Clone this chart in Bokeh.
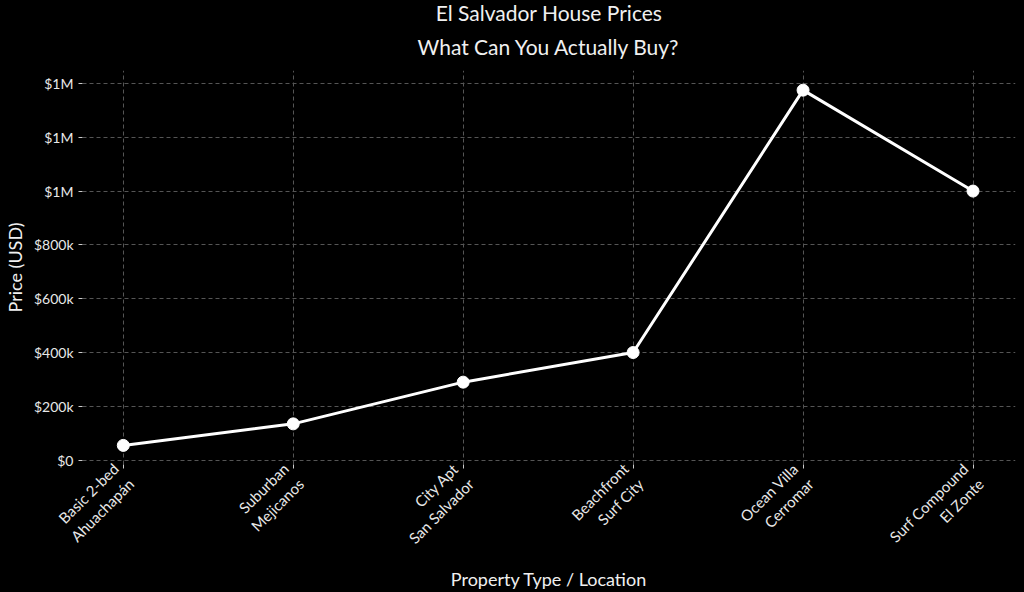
from bokeh.plotting import figure
from bokeh.models import Range1d, FixedTicker, ColumnDataSource, Title
from bokeh.embed import file_html
from bokeh.resources import INLINE

title_lines = ["El Salvador House Prices", "What Can You Actually Buy?"]
categories = ["Basic 2-bed\nAhuachapán", "Suburban\nMejicanos", "City Apt\nSan Salvador",
              "Beachfront\nSurf City", "Ocean Villa\nCerromar", "Surf Compound\nEl Zonte"]
prices = [55000, 135000, 290000, 400000, 1375000, 1000000]
y_ticks = [0, 200000, 400000, 600000, 800000, 1000000, 1200000, 1400000]
y_tick_labels = ["$0", "$200k", "$400k", "$600k", "$800k", "$1M", "$1M", "$1M"]

FONT = "Lato"
xs = list(range(len(categories)))
src = ColumnDataSource(dict(x=xs, y=prices))

p = figure(width=1024, height=592, output_backend="svg", toolbar_location=None,
           x_range=Range1d(-0.24, 5.25), y_range=Range1d(-16000, 1448000),
           background_fill_color="black", border_fill_color="black")
p.outline_line_color = None
p.min_border_left = 80
p.min_border_right = 9
p.min_border_top = 70
p.min_border_bottom = 10

for txt, so in ((title_lines[1], 24), (title_lines[0], -10)):
    t = Title(text=txt, align="center", text_color="#f0f0f0", text_font=FONT,
              text_font_size="21px", text_font_style="normal", standoff=so)
    p.add_layout(t, "above")

p.line("x", "y", source=src, line_color="white", line_width=3)
p.scatter("x", "y", source=src, size=12, fill_color="white", line_color="white")

p.xaxis.ticker = FixedTicker(ticks=xs)
p.xaxis.major_label_overrides = {i: c for i, c in zip(xs, categories)}
p.xaxis.major_label_orientation = 0.785398
p.yaxis.ticker = FixedTicker(ticks=y_ticks)
p.yaxis.major_label_overrides = {t: l for t, l in zip(y_ticks, y_tick_labels)}

for ax in (p.xaxis, p.yaxis):
    ax.axis_line_color = None
    ax.major_tick_line_color = "#cccccc"
    ax.major_tick_out = 4
    ax.major_tick_in = 0
    ax.minor_tick_line_color = None
    ax.major_label_text_color = "#e8e8e8"
    ax.major_label_text_font = FONT
    ax.major_label_text_font_size = "14px"
    ax.axis_label_text_color = "#f0f0f0"
    ax.axis_label_text_font = FONT
    ax.axis_label_text_font_size = "18px"
    ax.axis_label_text_font_style = "normal"

p.xaxis.major_label_text_font_size = "15px"
p.xaxis.axis_label_standoff = -10

p.xaxis.axis_label = "Property Type / Location"
p.yaxis.axis_label = "Price (USD)"

p.grid.grid_line_color = "#555555"
p.grid.grid_line_dash = "4 3"
p.grid.grid_line_width = 1

html = file_html(p, INLINE)
html = html.replace("<head>", "<head><style>html,body{background:#000;margin:0;}</style>", 1)
open("out.html", "w").write(html)
